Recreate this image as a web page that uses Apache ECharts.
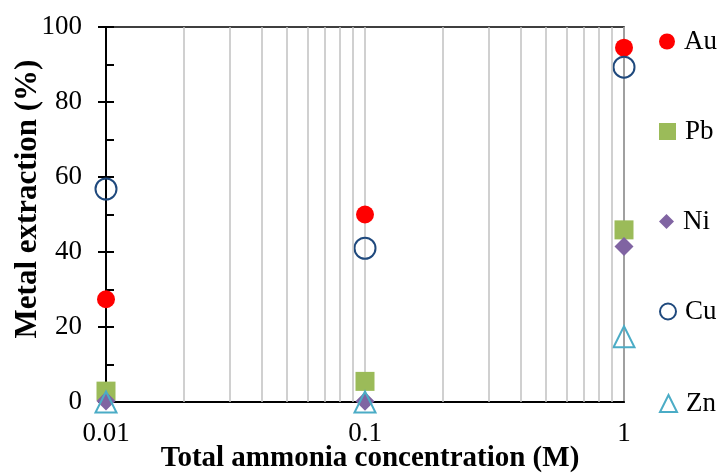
<!DOCTYPE html>
<html>
<head>
<meta charset="utf-8">
<script src="https://cdn.jsdelivr.net/npm/echarts@6/dist/echarts.min.js"></script>
<style>
  html, body { margin: 0; padding: 0; background: #fff; }
  #chart { width: 718px; height: 475px; }
</style>
</head>
<body>
<div id="chart"></div>
<script>
// Total ammonia concentration (M)
const concentrations = [0.01, 0.1, 1];
// Metal extraction (%) per metal
const au = [27.4, 50, 94.5];
const pb = [2.9, 5.5, 45.9];
const ni = [0.3, 0.2, 41.5];
const cu = [56.8, 41, 89.3];
const zn = [0, 0, 17.4];
// Log-scale minor gridline positions
const minorGrid = [0.02, 0.03, 0.04, 0.05, 0.06, 0.07, 0.08, 0.09,
                   0.2, 0.3, 0.4, 0.5, 0.6, 0.7, 0.8, 0.9];
const xTickLabels = { 0.01: '0.01', 0.1: '0.1', 1: '1' };
const metals = ['Au', 'Pb', 'Ni', 'Cu', 'Zn'];

const FONT = '"Liberation Serif", "Times New Roman", serif';

const pairs = arr => concentrations.map((c, i) => [c, arr[i]]);

const chart = echarts.init(document.getElementById('chart'));

const legendCenters = [37, 127, 217, 307, 399];
const legendIcons = {
  Au: { size: 16 }, Pb: { size: 17 }, Ni: { size: 15 }, Cu: { size: 16 }, Zn: { size: 17 }
};

chart.setOption({
  animation: false,
  textStyle: { fontFamily: FONT },
  grid: {
    left: 106, right: 94, top: 27, bottom: 73,
    show: true, borderColor: '#000', borderWidth: 1.5, backgroundColor: 'transparent'
  },
  xAxis: {
    type: 'log', logBase: 10, min: 0.01, max: 1,
    axisLine: { lineStyle: { color: '#000', width: 2 } },
    axisTick: { show: false },
    axisLabel: {
      color: '#000', fontSize: 27, fontFamily: FONT, margin: 18,
      formatter: v => xTickLabels[v] !== undefined ? xTickLabels[v] : String(v)
    },
    splitLine: { show: true, lineStyle: { color: '#c0c0c0', width: 1.5 } }
  },
  yAxis: [
    {
      type: 'value', min: 0, max: 100, interval: 20, position: 'left',
      axisLine: { show: true, lineStyle: { color: '#000', width: 2 } },
      axisTick: { show: true, length: 8, lineStyle: { color: '#000', width: 2 } },
      axisLabel: { color: '#000', fontSize: 27, fontFamily: FONT, margin: 24 },
      splitLine: { show: false }
    },
    {
      type: 'value', min: 0, max: 100, interval: 20, position: 'left',
      axisLine: { show: true, lineStyle: { color: '#000', width: 2 } },
      axisTick: { show: true, inside: true, length: 8, lineStyle: { color: '#000', width: 2 } },
      minorTick: { show: true, splitNumber: 2, length: 8, lineStyle: { color: '#000', width: 2 } },
      axisLabel: { show: false },
      splitLine: { show: false }
    }
  ],
  legend: metals.map((name, i) => ({
    data: [name],
    orient: 'vertical',
    left: 654,
    top: legendCenters[i] - 14,
    itemWidth: legendIcons[name].size,
    itemHeight: legendIcons[name].size,
    selectedMode: false,
    textStyle: { color: '#000', fontSize: 27, fontFamily: FONT, padding: [0, 0, 0, 4] }
  })),
  graphic: [
    {
      type: 'text', x: 370, y: 459,
      style: {
        text: 'Total ammonia concentration (M)', fill: '#000',
        font: 'bold 29px ' + FONT, align: 'center', verticalAlign: 'middle'
      }
    },
    {
      type: 'text', rotation: Math.PI / 2,
      x: 28, y: 199,
      style: {
        text: 'Metal extraction (%)', fill: '#000',
        font: 'bold 31px ' + FONT, align: 'center', verticalAlign: 'middle'
      }
    }
  ],
  series: [
    {
      name: 'minorGrid', type: 'scatter', data: [], silent: true, z: 1,
      markLine: {
        silent: true, symbol: ['none', 'none'], label: { show: false },
        lineStyle: { color: '#c0c0c0', width: 1.5, type: 'solid' },
        animation: false,
        data: minorGrid.map(v => ({ xAxis: v }))
      }
    },
    {
      name: 'Au', type: 'scatter', data: pairs(au), symbol: 'circle', symbolSize: 18, z: 3,
      itemStyle: { color: '#ff0000', opacity: 1 }
    },
    {
      name: 'Pb', type: 'scatter', data: pairs(pb), symbol: 'rect', symbolSize: 19, z: 3,
      itemStyle: { color: '#9bbb59', opacity: 1 }
    },
    {
      name: 'Ni', type: 'scatter', data: pairs(ni), symbol: 'diamond', symbolSize: [19, 19], z: 3,
      itemStyle: { color: '#8064a2', opacity: 1 }
    },
    {
      name: 'Cu', type: 'scatter', data: pairs(cu), symbol: 'circle', symbolSize: 21, z: 3,
      itemStyle: { color: 'rgba(255,255,255,0)', borderColor: '#1f497d', borderWidth: 2, opacity: 1 }
    },
    {
      name: 'Zn', type: 'scatter', data: pairs(zn), symbol: 'triangle', symbolSize: 21, z: 3,
      itemStyle: { color: 'rgba(255,255,255,0)', borderColor: '#4bacc6', borderWidth: 2, opacity: 1 }
    }
  ]
});
</script>
</body>
</html>
